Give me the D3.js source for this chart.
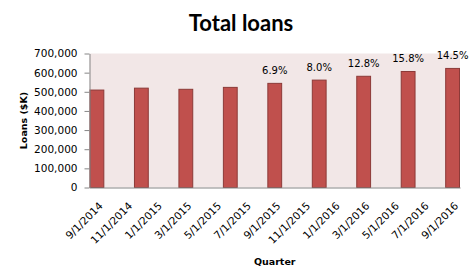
<!DOCTYPE html>
<html>
<head>
<meta charset="utf-8">
<script src="https://d3js.org/d3.v7.min.js"></script>
<style>
  body { margin: 0; background: #fff; }
  svg text { font-family: "DejaVu Sans", Verdana, sans-serif; }
</style>
</head>
<body>
<div id="chart"></div>
<script>
// quarterly totals ($K)
var quarters = ['9/1/2014', '12/1/2014', '3/1/2015', '6/1/2015', '9/1/2015',
                '12/1/2015', '3/1/2016', '6/1/2016', '9/1/2016'];
var loans = [509000, 519000, 513000, 523000, 544000, 561000, 581000, 606000, 622000];
// year over year growth, only shown from the fifth quarter on
var growth = [null, null, null, null, 6.9, 8.0, 12.8, 15.8, 14.5];

var xTickLabels = ['9/1/2014', '11/1/2014', '1/1/2015', '3/1/2015', '5/1/2015', '7/1/2015',
                   '9/1/2015', '11/1/2015', '1/1/2016', '3/1/2016', '5/1/2016', '7/1/2016', '9/1/2016'];
var yTicks = [0, 100000, 200000, 300000, 400000, 500000, 600000, 700000];

var width = 472, height = 280;
var plot = { left: 89.5, right: 460, top: 53.5, bottom: 187.5 };

// month number counted from the first date label (9/2014 = 0)
function monthIdx(s) {
    var p = s.split('/');
    return (+p[2] - 2014) * 12 + (+p[0]) - 9;
}

var svg = d3.select('#chart').append('svg')
    .attr('width', width)
    .attr('height', height);

var x = d3.scaleLinear()
    .domain([-0.5, monthIdx(xTickLabels[xTickLabels.length - 1]) + 0.5])
    .range([plot.left, plot.right]);

var y = d3.scaleLinear()
    .domain([0, 700000])
    .range([plot.bottom, plot.top]);

var bw = x(1) - x(0) - 1;

// plot background
svg.append('rect')
    .attr('x', plot.left)
    .attr('y', plot.top)
    .attr('width', plot.right - plot.left)
    .attr('height', plot.bottom - plot.top)
    .attr('fill', '#F2E7E7');

// bars
svg.selectAll('rect.bar')
    .data(quarters)
    .enter().append('rect')
    .attr('class', 'bar')
    .attr('x', function (d) { return x(monthIdx(d)) - bw / 2; })
    .attr('y', function (d, i) { return y(loans[i]); })
    .attr('width', bw)
    .attr('height', function (d, i) { return y(0) - y(loans[i]); })
    .attr('fill', '#C0504D')
    .attr('stroke', '#8C3A38')
    .attr('stroke-width', 1);

// growth labels
svg.selectAll('text.pct')
    .data(quarters.filter(function (d, i) { return growth[i] !== null; }))
    .enter().append('text')
    .attr('class', 'pct')
    .attr('x', function (d) { return x(monthIdx(d)); })
    .attr('y', function (d) { return y(loans[quarters.indexOf(d)]) - 9; })
    .attr('text-anchor', 'middle')
    .style('font-size', '10px')
    .attr('fill', '#000')
    .text(function (d) { return growth[quarters.indexOf(d)].toFixed(1) + '%'; });

// y axis
var yAxis = svg.append('g')
    .attr('transform', 'translate(' + plot.left + ',0)')
    .call(d3.axisLeft(y).tickValues(yTicks).tickSize(5).tickPadding(7).tickSizeOuter(0)
        .tickFormat(d3.format(',')));
yAxis.select('.domain').attr('stroke', '#868686');
yAxis.selectAll('.tick line').attr('stroke', '#868686');
yAxis.selectAll('text').style('font-size', '10.5px').attr('fill', '#000');

// x axis
var xAxis = svg.append('g')
    .attr('transform', 'translate(0,' + plot.bottom + ')')
    .call(d3.axisBottom(x)
        .tickValues(xTickLabels.map(monthIdx))
        .tickSize(0).tickSizeOuter(0)
        .tickFormat(function (d, i) { return xTickLabels[i]; }));
xAxis.select('.domain').attr('stroke', '#868686');
xAxis.selectAll('text')
    .style('font-size', '10.5px')
    .attr('fill', '#000')
    .attr('text-anchor', 'end')
    .attr('dy', null)
    .attr('y', 0)
    .attr('transform', 'translate(6,19) rotate(-45)');

// titles
svg.append('text')
    .attr('x', 241)
    .attr('y', 31)
    .attr('text-anchor', 'middle')
    .style('font-family', 'Lato, sans-serif')
    .style('font-weight', 'bold')
    .style('font-size', '22px')
    .text('Total loans');

svg.append('text')
    .attr('x', (plot.left + plot.right) / 2)
    .attr('y', 265)
    .attr('text-anchor', 'middle')
    .style('font-weight', 'bold')
    .style('font-size', '9.5px')
    .text('Quarter');

svg.append('text')
    .attr('transform', 'translate(27,' + (plot.top + plot.bottom) / 2 + ') rotate(-90)')
    .attr('text-anchor', 'middle')
    .style('font-weight', 'bold')
    .style('font-size', '9.5px')
    .text('Loans ($K)');
</script>
</body>
</html>
